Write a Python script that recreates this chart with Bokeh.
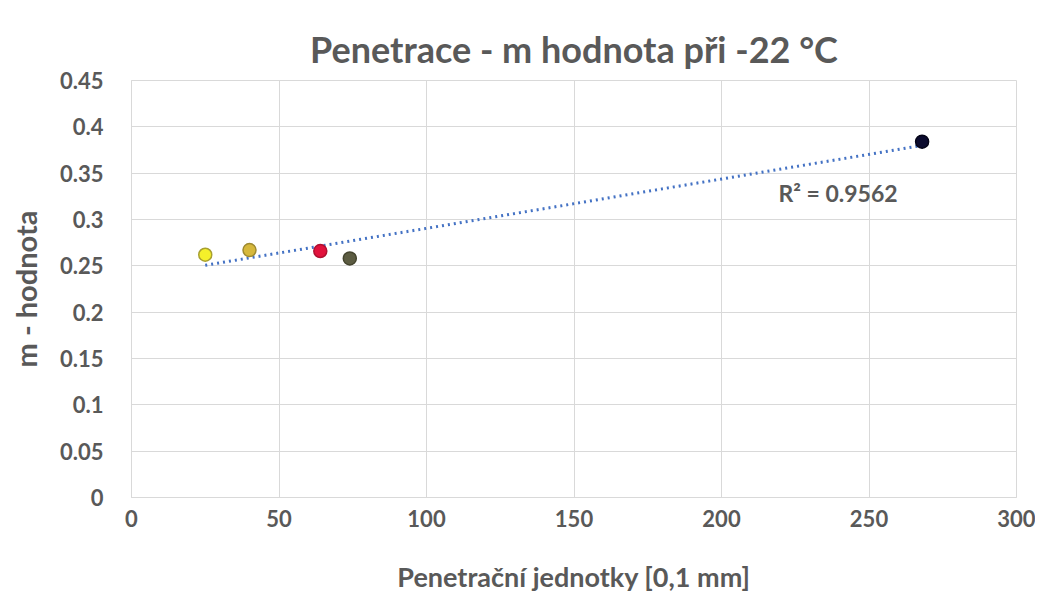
import numpy as np
from bokeh.plotting import figure
from bokeh.models import ColumnDataSource, Label, Range1d, FixedTicker, CustomJSTickFormatter
from bokeh.embed import file_html
from bokeh.resources import INLINE

# data
penetration = [25, 40, 64, 74, 268]
m_value = [0.262, 0.267, 0.266, 0.258, 0.384]
fill_colors = ["#f5f02a", "#d6b83c", "#e2123c", "#5c5c42", "#0b0b2e"]
line_colors = ["#a8a030", "#9e8a30", "#b01030", "#44442e", "#050518"]
x_ticks = [0, 50, 100, 150, 200, 250, 300]
y_ticks = [0, 0.05, 0.1, 0.15, 0.2, 0.25, 0.3, 0.35, 0.4, 0.45]
r2_text = "R\u00b2 = 0.9562"

W, H = 1035, 595
FONT = "Lato"
GRAY = "#595959"

p = figure(width=W, height=H, output_backend="svg", toolbar_location=None,
           x_range=Range1d(0, 300), y_range=Range1d(0, 0.45),
           min_border_left=131, min_border_right=W - 1016, min_border_top=80,
           min_border_bottom=H - 498)

p.title.text = "Penetrace - m hodnota při -22 °C"
p.title.align = "center"
p.title.vertical_align = "middle"
p.title.text_font = FONT
p.title.text_font_size = "36px"
p.title.text_font_style = "bold"
p.title.text_color = GRAY
p.title.standoff = 18

p.outline_line_color = "#d9d9d9"
p.background_fill_color = "white"
p.border_fill_color = "white"

for ax in (p.xaxis, p.yaxis):
    ax.axis_line_color = "#d9d9d9"
    ax.major_tick_line_color = None
    ax.minor_tick_line_color = None
    ax.major_tick_out = 0
    ax.major_tick_in = 0
    ax.minor_tick_out = 0
    ax.major_label_text_font = FONT
    ax.major_label_text_font_size = "22px"
    ax.major_label_text_font_style = "bold"
    ax.major_label_text_color = GRAY
    ax.axis_label_text_font = FONT
    ax.axis_label_text_font_style = "bold"
    ax.axis_label_text_color = GRAY

p.xaxis.axis_label_text_font_size = "27px"
p.yaxis.axis_label_text_font_size = "29px"
p.xaxis.ticker = FixedTicker(ticks=x_ticks)
p.yaxis.ticker = FixedTicker(ticks=y_ticks)
p.yaxis.formatter = CustomJSTickFormatter(code="return String(parseFloat(tick.toFixed(2)));")
p.xaxis.axis_label = "Penetrační jednotky [0,1 mm]"
p.yaxis.axis_label = "m - hodnota"
p.xaxis.major_label_standoff = 12
p.yaxis.major_label_standoff = 28
p.xaxis.axis_label_standoff = 30
p.yaxis.axis_label_standoff = 14

p.xgrid.ticker = FixedTicker(ticks=x_ticks)
p.ygrid.ticker = FixedTicker(ticks=y_ticks)
p.xgrid.grid_line_color = "#d9d9d9"
p.ygrid.grid_line_color = "#d9d9d9"

# linear trendline
slope, intercept = np.polyfit(penetration, m_value, 1)
tx = [min(penetration), max(penetration)]
ty = [slope * v + intercept for v in tx]
p.line(tx, ty, line_color="#4472c4", line_width=3, line_dash="2 4")

src = ColumnDataSource(dict(x=penetration, y=m_value, fc=fill_colors, lc=line_colors))
p.scatter("x", "y", source=src, size=13, fill_color="fc", line_color="lc", line_width=1.5)

p.add_layout(Label(x=219.3, y=0.329, text=r2_text, text_font=FONT, text_font_size="23px",
                   text_font_style="bold", text_color=GRAY, text_baseline="middle"))

open("out.html", "w").write(file_html(p, INLINE))
